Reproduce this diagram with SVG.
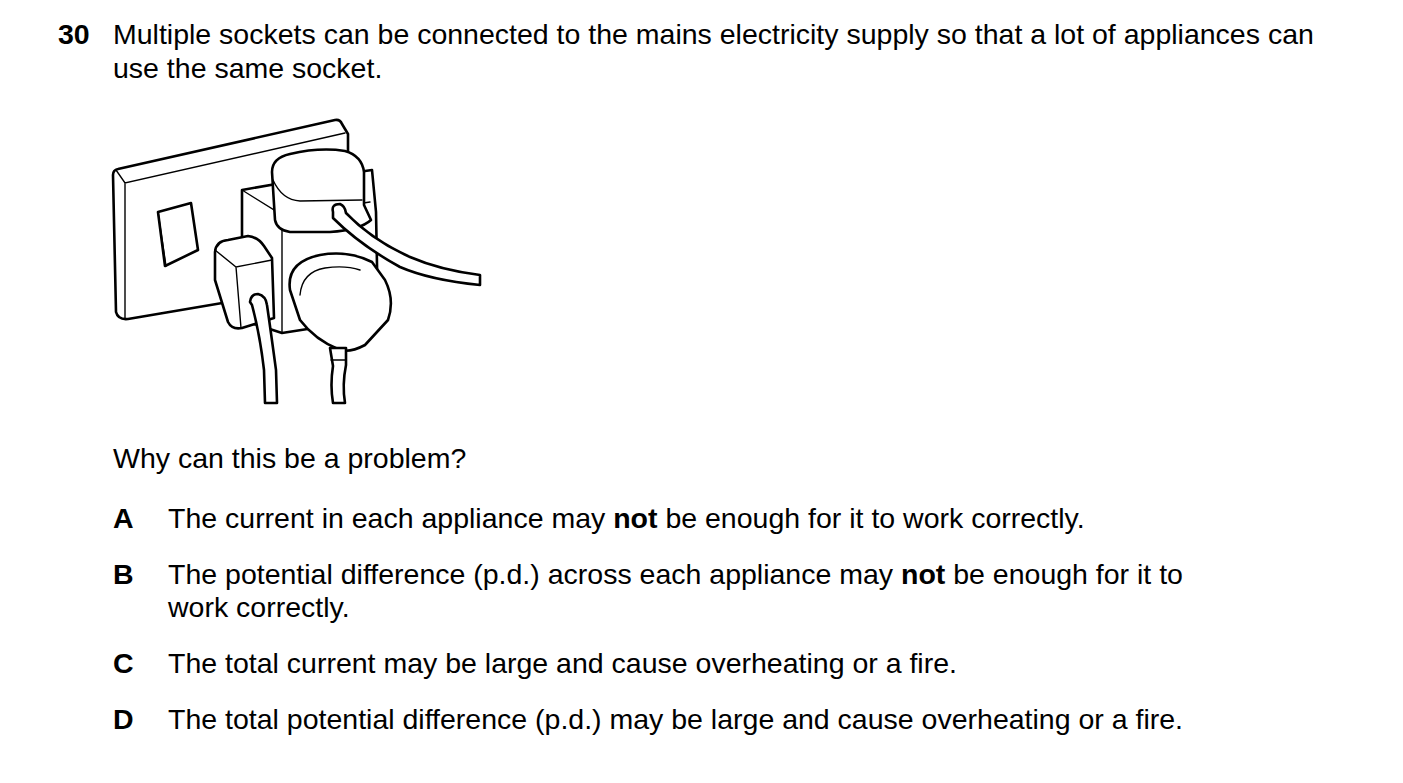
<svg xmlns="http://www.w3.org/2000/svg" width="1403" height="783" viewBox="0 0 1403 783">
<style>
text{font-family:"Liberation Sans",Arial,sans-serif;font-size:28.5px;fill:#000}
.b{font-weight:bold}
.l{fill:#fff;stroke:#000;stroke-width:2.6;stroke-linejoin:round;stroke-linecap:round}
.t{fill:none;stroke:#000;stroke-width:1.4;stroke-linecap:round}
</style>
<rect width="1403" height="783" fill="#fff"/>
<text x="58" y="44" class="b">30</text>
<text x="113" y="44">Multiple sockets can be connected to the mains electricity supply so that a lot of appliances can</text>
<text x="113" y="78">use the same socket.</text>
<g id="illustration">
<path class="l" d="M113,175 Q113,170 118,169 L335,120 Q340,119 342,124 L348,134 L348,240 L240,300 L128,319 Q118,320 116,312 Z"/>
<path class="t" d="M116,170 L125,183 L345,133 M125,183 L125,318"/>
<path class="l" d="M158,212 L191,203 L198,250 L165,266 Z"/>
<path class="t" d="M158,212 L166,266"/>
<path class="l" d="M242,190 L282,183 L372,170 L376,212 L378,318 L282,333 L242,320 Z"/>
<path class="t" d="M242,190 L282,215 L282,333 M282,215 L370,202"/>
<path class="l" d="M272,172 Q272,158 290,154 Q320,147 345,151 Q362,156 364,172 L364,205 L371,220 Q360,230 330,232 L290,232 Q277,230 275,220 Z"/>
<path class="t" d="M273,180 Q282,200 300,201 L362,200"/>
<path class="l" d="M333,212 Q331,204 340,204 Q345,206 346,213 Q372,240 410,257 Q440,270 480,275 L480,285 Q430,280 400,267 Q360,245 333,218 Z"/>
<path class="l" d="M215,252 Q216,241 228,240 L248,236 Q258,237 264,246 L272,258 L274,318 L242,328 Q232,330 228,322 L215,280 Z"/>
<path class="t" d="M215,250 L236,267 L272,260 M236,267 L241,328"/>
<path class="l" d="M250,302 Q251,294 258,294 Q266,296 267,305 Q272,340 276,370 L277,403 L265,403 L264,370 Q260,335 252,305 Z"/>
<path class="l" d="M290,290 Q286,262 320,255 Q348,250 372,262 L385,280 Q395,300 388,320 L365,345 Q350,353 340,350 Q315,340 300,320 Z"/>
<path class="t" d="M300,295 Q302,272 325,268 Q345,265 360,270"/>
<path class="l" d="M330,348 L346,348 L346,365 Q342,385 345,403 L333,403 Q330,385 333,366 Z"/>
<path class="t" d="M331,360 L346,360"/>
</g>
<text x="113" y="468">Why can this be a problem?</text>
<text x="113" y="528" class="b">A</text>
<text x="168" y="528">The current in each appliance may <tspan class="b">not</tspan> be enough for it to work correctly.</text>
<text x="113" y="584" class="b">B</text>
<text x="168" y="584">The potential difference (p.d.) across each appliance may <tspan class="b">not</tspan> be enough for it to</text>
<text x="168" y="617">work correctly.</text>
<text x="113" y="673" class="b">C</text>
<text x="168" y="673">The total current may be large and cause overheating or a fire.</text>
<text x="113" y="729" class="b">D</text>
<text x="168" y="729">The total potential difference (p.d.) may be large and cause overheating or a fire.</text>
</svg>
